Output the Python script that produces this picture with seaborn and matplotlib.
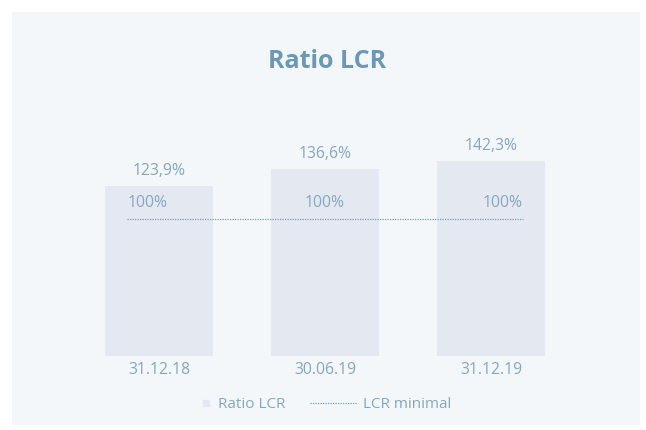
import pandas as pd
import seaborn as sns
import matplotlib.pyplot as plt
from matplotlib.patches import Rectangle
from matplotlib.lines import Line2D

# Donnees
dates = ['31.12.18', '30.06.19', '31.12.19']
ratio_lcr = [123.9, 136.6, 142.3]
lcr_minimal = 100
labels_ratio = ['123,9%', '136,6%', '142,3%']
label_min = '100%'

bar_color = '#e4e9f1'
text_color = '#86a7bf'
title_color = '#6b98b4'
line_color = '#7d9db4'
panel_color = '#f3f7fa'

sns.set_theme(style='white')
plt.rcParams['font.family'] = ['Open Sans', 'DejaVu Sans']

df = pd.DataFrame({'date': dates, 'ratio': ratio_lcr})

fig = plt.figure(figsize=(6.46, 4.30), dpi=100)
fig.patch.set_facecolor('white')
fig.patches.append(Rectangle((12 / 646, 5 / 430), 628 / 646, 413 / 430,
                             transform=fig.transFigure, facecolor=panel_color,
                             edgecolor='none', zorder=-5))

ax = fig.add_axes([76 / 646, 74 / 430, 498 / 646, 274 / 430])
ax.set_facecolor('none')
ax.set_zorder(2)

sns.barplot(data=df, x='date', y='ratio', order=dates, color=bar_color,
            saturation=1, width=0.65, linewidth=0, ax=ax)

# valeurs au-dessus des barres
for i, lab in enumerate(labels_ratio):
    ax.annotate(lab, (i, ratio_lcr[i]), xytext=(0, 5), textcoords='offset points',
                ha='center', va='bottom', color=text_color, fontsize=11.3)

# ligne LCR minimal
x0, x1 = -0.19, len(dates) - 1 + 0.19
ax.hlines(lcr_minimal, x0, x1, colors=line_color, linestyles=(0, (1, 1)),
          linewidth=0.9)
for xpos, ha in zip([x0, 1, x1], ['left', 'center', 'right']):
    ax.annotate(label_min, (xpos, lcr_minimal), xytext=(0, 6),
                textcoords='offset points', ha=ha, va='bottom',
                color=text_color, fontsize=11.3)

ax.set_xlim(-0.5, len(dates) - 0.5)
ax.set_ylim(0, 200)
ax.set_xlabel('')
ax.set_ylabel('')
ax.set_yticks([])
ax.tick_params(axis='x', length=0, pad=4, labelsize=11.3, labelcolor=text_color)
sns.despine(ax=ax, left=True, bottom=True)

fig.text(0.506, 1 - 62 / 430, 'Ratio LCR', ha='center', va='center',
         fontsize=18, fontweight='bold', color=title_color)

# legende (deux elements separes)
h_bar = Line2D([], [], marker='s', linestyle='none', markersize=5,
               markerfacecolor=bar_color, markeredgecolor=bar_color)
h_line = Line2D([], [], color=line_color, linestyle=(0, (1, 1)), linewidth=0.9)
leg1 = fig.legend([h_bar], ['Ratio LCR'], loc='center left',
                  bbox_to_anchor=(186 / 646, 1 - 405 / 430), frameon=False,
                  fontsize=11, handlelength=0.8, handletextpad=0.4)
leg2 = fig.legend([h_line], ['LCR minimal'], loc='center left',
                  bbox_to_anchor=(296 / 646, 1 - 405 / 430), frameon=False,
                  fontsize=11, handlelength=3.0, handletextpad=0.5)
for leg in (leg1, leg2):
    for t in leg.get_texts():
        t.set_color(text_color)

fig.savefig('out.png', dpi=100, facecolor='white')
